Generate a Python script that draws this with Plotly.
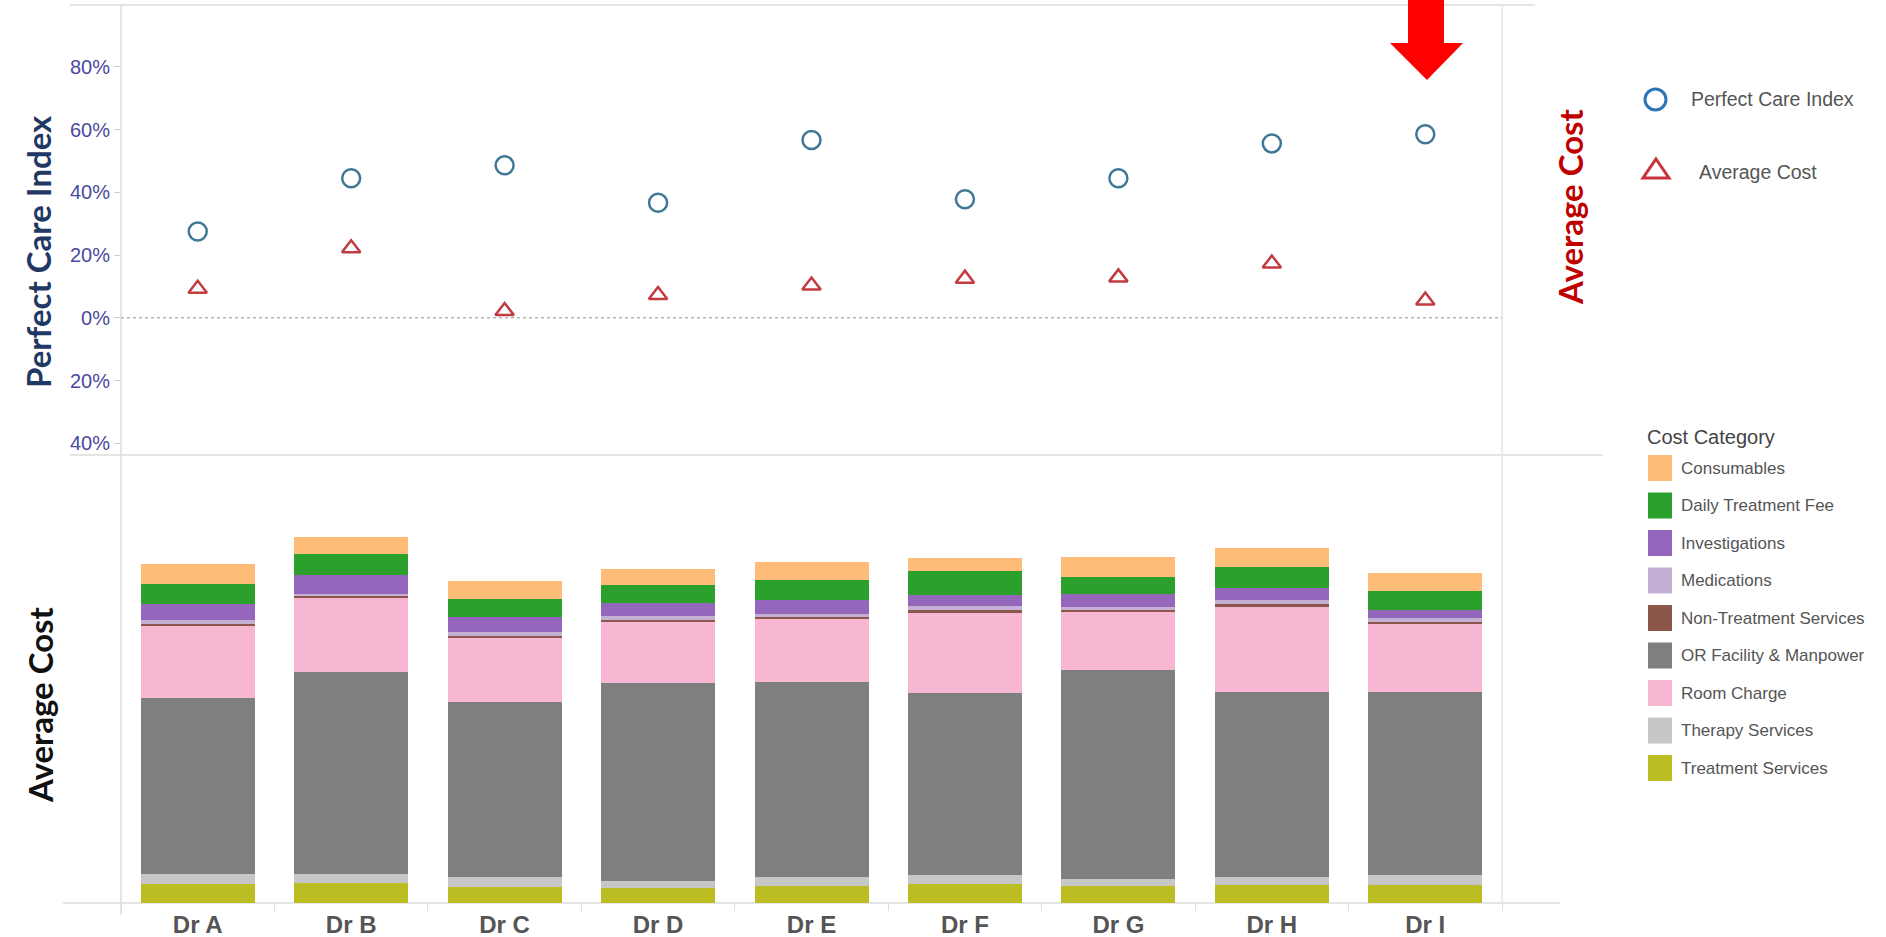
import plotly.graph_objects as go

W, H = 1886, 937

doctors = ["Dr A", "Dr B", "Dr C", "Dr D", "Dr E", "Dr F", "Dr G", "Dr H", "Dr I"]
perfect_care_index = [0.275, 0.445, 0.486, 0.367, 0.567, 0.378, 0.445, 0.556, 0.585]
average_cost_index = [0.093, 0.222, 0.022, 0.073, 0.103, 0.125, 0.129, 0.173, 0.055]

# Cost categories in legend order
categories = ["Consumables", "Daily Treatment Fee", "Investigations", "Medications",
              "Non-Treatment Services", "OR Facility & Manpower", "Room Charge",
              "Therapy Services", "Treatment Services"]
cost_colors = ["#ffbb78", "#2ca02c", "#9467bd", "#c5b0d5", "#8c564b",
               "#7f7f7f", "#f7b6d2", "#c7c7c7", "#bcbd22"]
# order of the segments from the bottom of each bar upwards
stack_order = ["Treatment Services", "Therapy Services", "OR Facility & Manpower", "Room Charge",
               "Non-Treatment Services", "Medications", "Investigations", "Daily Treatment Fee",
               "Consumables"]

consumables = [500, 425, 450, 400, 450, 335, 500, 460, 450]
daily_treatment_fee = [500, 520, 460, 460, 485, 600, 430, 540, 480]
investigations = [410, 475, 385, 335, 350, 260, 320, 290, 210]
medications = [90, 50, 85, 85, 70, 100, 85, 100, 85]
non_treatment_services = [50, 60, 60, 60, 50, 70, 60, 70, 65]
or_facility_manpower = [4400, 5030, 4375, 4940, 4870, 4550, 5225, 4620, 4575]
room_charge = [1800, 1860, 1585, 1520, 1580, 2010, 1440, 2130, 1690]
therapy_services = [250, 235, 250, 190, 235, 225, 175, 210, 250]
treatment_services = [475, 500, 410, 370, 425, 475, 425, 450, 450]

cost_values = [consumables, daily_treatment_fee, investigations, medications,
               non_treatment_services, or_facility_manpower, room_charge,
               therapy_services, treatment_services]

pct_ticks = [-0.4, -0.2, 0.0, 0.2, 0.4, 0.6, 0.8]
pct_tick_labels = ["40%", "20%", "0%", "20%", "40%", "60%", "80%"]


def px(x):
    return x / W


def py(y):
    return 1 - y / H


X0, X1 = 121, 1502
Y_TOP, Y_SEP, Y_BASE = 5, 455, 903

fig = go.Figure()

series = {name: (color, vals) for name, color, vals in zip(categories, cost_colors, cost_values)}
for name in stack_order:
    color, vals = series[name]
    fig.add_trace(go.Bar(x=doctors, y=vals, name=name, marker=dict(color=color, line=dict(width=0)),
                         xaxis="x", yaxis="y", showlegend=False))

fig.add_trace(go.Scatter(x=doctors, y=perfect_care_index, mode="markers", name="Perfect Care Index",
                         marker=dict(symbol="circle-open", size=18, line=dict(width=2.5), color="#3f7896"),
                         xaxis="x2", yaxis="y2", showlegend=False))
fig.add_trace(go.Scatter(x=doctors, y=average_cost_index, mode="markers", name="Average Cost",
                         marker=dict(symbol="triangle-up-open", size=16, line=dict(width=2.5), color="#c23b40"),
                         xaxis="x2", yaxis="y2", showlegend=False))

shapes = []
line_col = "#dcdcdc"
for (xa, ya, xb, yb, c, w) in [
    (70, Y_TOP, 1535, Y_TOP, "#e4e4e4", 2),
    (70, Y_SEP, 1603, Y_SEP, line_col, 1.5),
    (63, Y_BASE, 1560, Y_BASE, line_col, 1.5),
    (X0, Y_TOP, X0, 915, line_col, 1.5),
    (X1, Y_TOP, X1, Y_BASE, "#e6e6e6", 1.5),
]:
    shapes.append(dict(type="line", xref="paper", yref="paper", x0=px(xa), y0=py(ya), x1=px(xb), y1=py(yb),
                       line=dict(color=c, width=w), layer="below"))

# dotted zero line in the top panel
shapes.append(dict(type="line", xref="paper", yref="y2", x0=px(X0), x1=px(X1), y0=0, y1=0,
                   line=dict(color="#b5b5b5", width=1.5, dash="dot"), layer="below"))

# red arrow
pts = [(1408, 0), (1444, 0), (1444, 43), (1463, 43), (1427, 80), (1390, 43), (1408, 43)]
path = "M " + " L ".join(f"{px(a):.5f} {py(b):.5f}" for a, b in pts) + " Z"
shapes.append(dict(type="path", xref="paper", yref="paper", path=path, fillcolor="#ff0000",
                   line=dict(width=0)))

# marker legend symbols
shapes.append(dict(type="circle", xref="paper", yref="paper", x0=px(1645), x1=px(1666),
                   y0=py(110), y1=py(89), line=dict(color="#2e75b6", width=3)))
tri = [(1656, 159), (1669, 178), (1643, 178)]
tpath = "M " + " L ".join(f"{px(a):.5f} {py(b):.5f}" for a, b in tri) + " Z"
shapes.append(dict(type="path", xref="paper", yref="paper", path=tpath,
                   line=dict(color="#c8323c", width=3)))

# cost category swatches
for i, c in enumerate(cost_colors):
    top = 455 + i * 37.5
    shapes.append(dict(type="rect", xref="paper", yref="paper", x0=px(1648), x1=px(1672),
                       y0=py(top + 26), y1=py(top), fillcolor=c, line=dict(width=0)))

annotations = [
    dict(text="<b>Perfect Care Index</b>", x=px(38), y=py(252), textangle=-90,
         font=dict(family="Lato", size=33, color="#1f3864")),
    dict(text="<b>Average Cost</b>", x=px(40), y=py(705), textangle=-90,
         font=dict(family="Lato", size=33, color="#111111")),
    dict(text="<b>Average Cost</b>", x=px(1570), y=py(207), textangle=-90,
         font=dict(family="Lato", size=33, color="#c00000")),
    dict(text="Perfect Care Index", x=px(1689), y=py(99), xanchor="left",
         font=dict(family="Liberation Sans", size=19.5, color="#555555")),
    dict(text="Average Cost", x=px(1697), y=py(172), xanchor="left",
         font=dict(family="Liberation Sans", size=19.5, color="#555555")),
    dict(text="Cost Category", x=px(1645), y=py(437), xanchor="left",
         font=dict(family="Liberation Sans", size=20, color="#444444")),
]
for i, name in enumerate(categories):
    annotations.append(dict(text=name, x=px(1679), y=py(455 + i * 37.5 + 13), xanchor="left",
                            font=dict(family="Liberation Sans", size=17, color="#555555")))
for a in annotations:
    a.update(xref="paper", yref="paper", showarrow=False)
    a.setdefault("xanchor", "center")
    a.setdefault("yanchor", "middle")

fig.update_layout(
    width=W, height=H,
    margin=dict(l=0, r=0, t=0, b=0),
    paper_bgcolor="white", plot_bgcolor="white",
    barmode="stack", bargap=0.257,
    shapes=shapes, annotations=annotations,
    xaxis=dict(domain=[px(X0), px(X1)], anchor="y", type="category", range=[-0.5, 8.5],
               showgrid=False, showline=False, zeroline=False,
               ticks="outside", tickson="boundaries", ticklen=7, tickcolor="#dddddd",
               ticklabelstandoff=5,
               tickfont=dict(family="Liberation Sans", size=24, color="#555555", weight="bold")),
    yaxis=dict(domain=[py(Y_BASE), py(Y_SEP)], anchor="x", range=[0, 11200],
               showticklabels=False, showgrid=False, zeroline=False, showline=False, ticks=""),
    xaxis2=dict(domain=[px(X0), px(X1)], anchor="y2", type="category", range=[-0.5, 8.5],
                showticklabels=False, showgrid=False, zeroline=False, showline=False, ticks=""),
    yaxis2=dict(domain=[py(Y_SEP), py(Y_TOP)], anchor="x2", range=[-0.437, 0.997],
                tickvals=pct_ticks, ticktext=pct_tick_labels,
                tickfont=dict(family="Liberation Sans", size=20, color="#4a4a9e"),
                ticks="outside", ticklen=6, tickcolor="#cccccc",
                showgrid=False, zeroline=False, showline=False),
)

fig.write_html("out.html")
